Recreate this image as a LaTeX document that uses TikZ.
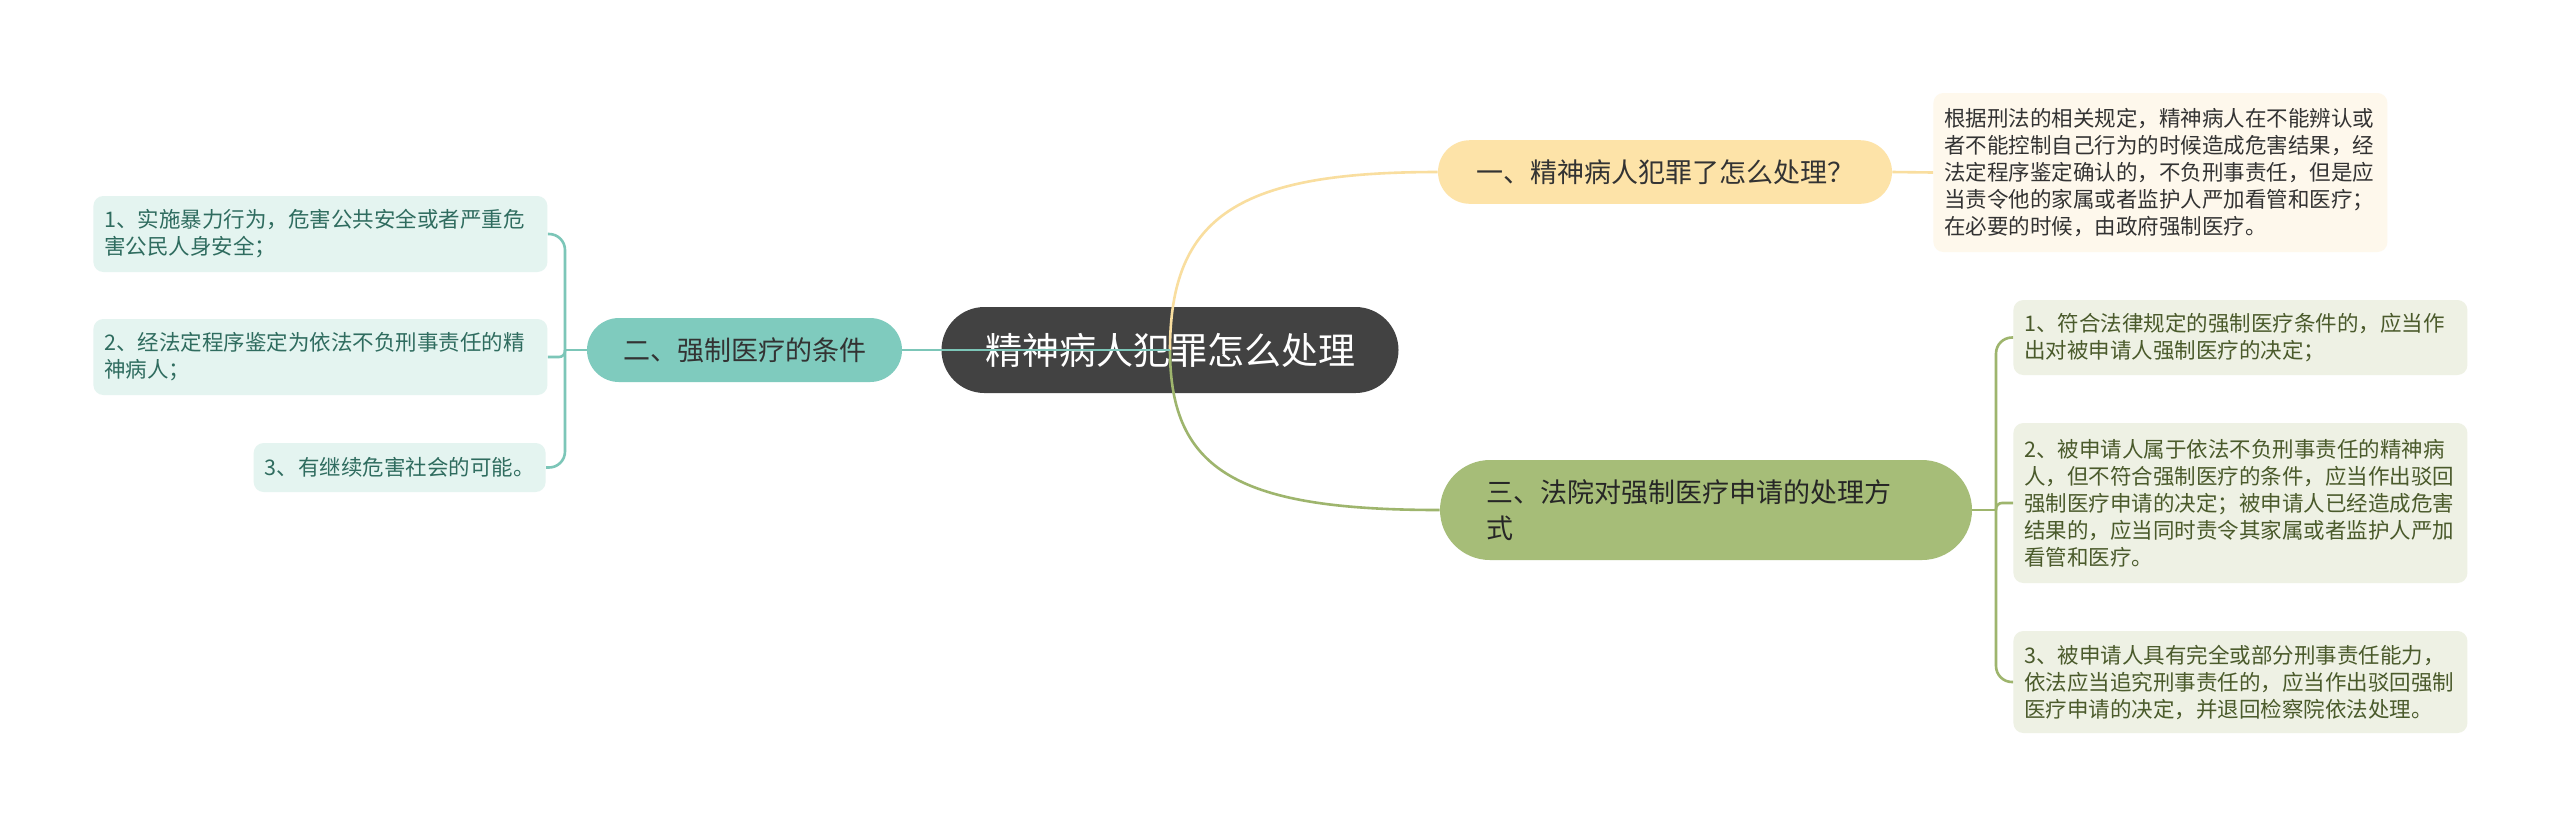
\documentclass[tikz,border=0pt]{standalone}
\usepackage{fontspec}
\newfontfamily\cjk{Noto Sans CJK SC}
\definecolor{rootfill}{HTML}{424242}
\definecolor{yfill}{HTML}{FDE3A8}
\definecolor{yline}{HTML}{F9DE9F}
\definecolor{tfill}{HTML}{7FCBBE}
\definecolor{tline}{HTML}{7CC6B8}
\definecolor{gfill}{HTML}{A6BD78}
\definecolor{gline}{HTML}{9EB56D}
\definecolor{lfill}{HTML}{E4F4F0}
\definecolor{ltext}{HTML}{2F6C5F}
\definecolor{rfill}{HTML}{EEF1E4}
\definecolor{rtext}{HTML}{4A5A2B}
\definecolor{cfill}{HTML}{FEF8EC}
\definecolor{ctext}{HTML}{333333}
\tikzset{
  rootnode/.style={fill=rootfill, rounded corners=21.5pt, minimum width=228.5pt, minimum height=43pt,
    inner sep=0pt, text=white, font=\cjk\fontsize{18.5}{22}\selectfont},
  mainnode/.style={rounded corners=15.9pt, minimum height=31.8pt, inner sep=0pt,
    text=ctext, font=\cjk\fontsize{13.5}{18}\selectfont},
  leafnode/.style={rounded corners=5pt, text width=216pt, align=left, inner xsep=5.5pt, inner ysep=0pt,
    font=\cjk\fontsize{10.75}{13.5}\selectfont},
  lleaf/.style={leafnode, fill=lfill, text=ltext},
  rleaf/.style={leafnode, fill=rfill, text=rtext},
  cleaf/.style={leafnode, fill=cfill, text=ctext},
  conn/.style={line width=1.3pt},
}
\begin{document}
\begin{tikzpicture}[x=0.5pt,y=-0.5pt]
\fill[white] (0,0) rectangle (2560,827);
\useasboundingbox (0,0) rectangle (2560,827);

% nodes
\node[rootnode] (root) at (1170,350) {精神病人犯罪怎么处理};
\node[mainnode, fill=yfill, minimum width=227pt] (n1) at (1665,172) {一、精神病人犯罪了怎么处理？};
\node[mainnode, fill=tfill, minimum width=157.5pt, minimum height=32pt, rounded corners=16pt] (n2) at (744.5,350) {二、强制医疗的条件};
\node[mainnode, fill=gfill, minimum width=266pt, minimum height=50pt, rounded corners=25pt,
      text width=220pt, align=left, inner xsep=23pt, text=black!85] (n3) at (1706,510)
      {三、法院对强制医疗申请的处理方\\式};

\node[cleaf, anchor=west, minimum height=79.5pt] (t1) at (1933,172.5)
  {根据刑法的相关规定，精神病人在不能辨认或\\者不能控制自己行为的时候造成危害结果，经\\法定程序鉴定确认的，不负刑事责任，但是应\\当责令他的家属或者监护人严加看管和医疗；\\在必要的时候，由政府强制医疗。};

\node[lleaf, anchor=west, minimum height=38pt] (l1) at (93,234)
  {1、实施暴力行为，危害公共安全或者严重危\\害公民人身安全；};
\node[lleaf, anchor=west, minimum height=38pt] (l2) at (93,357)
  {2、经法定程序鉴定为依法不负刑事责任的精\\神病人；};
\node[lleaf, anchor=east, minimum height=24.5pt, text width={}, align=left] (l3) at (546,467.5)
  {3、有继续危害社会的可能。};

\node[rleaf, anchor=west, minimum height=37.5pt] (r1) at (2013,337.5)
  {1、符合法律规定的强制医疗条件的，应当作\\出对被申请人强制医疗的决定；};
\node[rleaf, anchor=west, minimum height=80pt] (r2) at (2013,503)
  {2、被申请人属于依法不负刑事责任的精神病\\人，但不符合强制医疗的条件，应当作出驳回\\强制医疗申请的决定；被申请人已经造成危害\\结果的，应当同时责令其家属或者监护人严加\\看管和医疗。};
\node[rleaf, anchor=west, minimum height=51pt] (r3) at (2013,682)
  {3、被申请人具有完全或部分刑事责任能力，\\依法应当追究刑事责任的，应当作出驳回强制\\医疗申请的决定，并退回检察院依法处理。};

% junctions
\coordinate (lj) at (565,350);
\coordinate (rj) at (1996,510);

% connectors
\draw[conn, yline] (root.center) .. controls (1170,215) and (1240,172) .. (n1.west);
\draw[conn, gline] (root.center) .. controls (1170,472) and (1240,510) .. (n3.west);
\draw[conn, tline] (root.center) -- (n2.east);
\draw[conn, yline] (n1.east) -- (t1.west);

\draw[conn, tline] (n2.west) -- (lj);
\draw[conn, tline, rounded corners=8pt] (lj) |- (l1.east);
\draw[conn, tline, rounded corners=3pt] (lj) |- (l2.east);
\draw[conn, tline, rounded corners=8pt] (lj) |- (l3.east);

\draw[conn, gline] (n3.east) -- (rj);
\draw[conn, gline, rounded corners=8pt] (rj) |- (r1.west);
\draw[conn, gline, rounded corners=3pt] (rj) |- (r2.west);
\draw[conn, gline, rounded corners=8pt] (rj) |- (r3.west);
\end{tikzpicture}
\end{document}
